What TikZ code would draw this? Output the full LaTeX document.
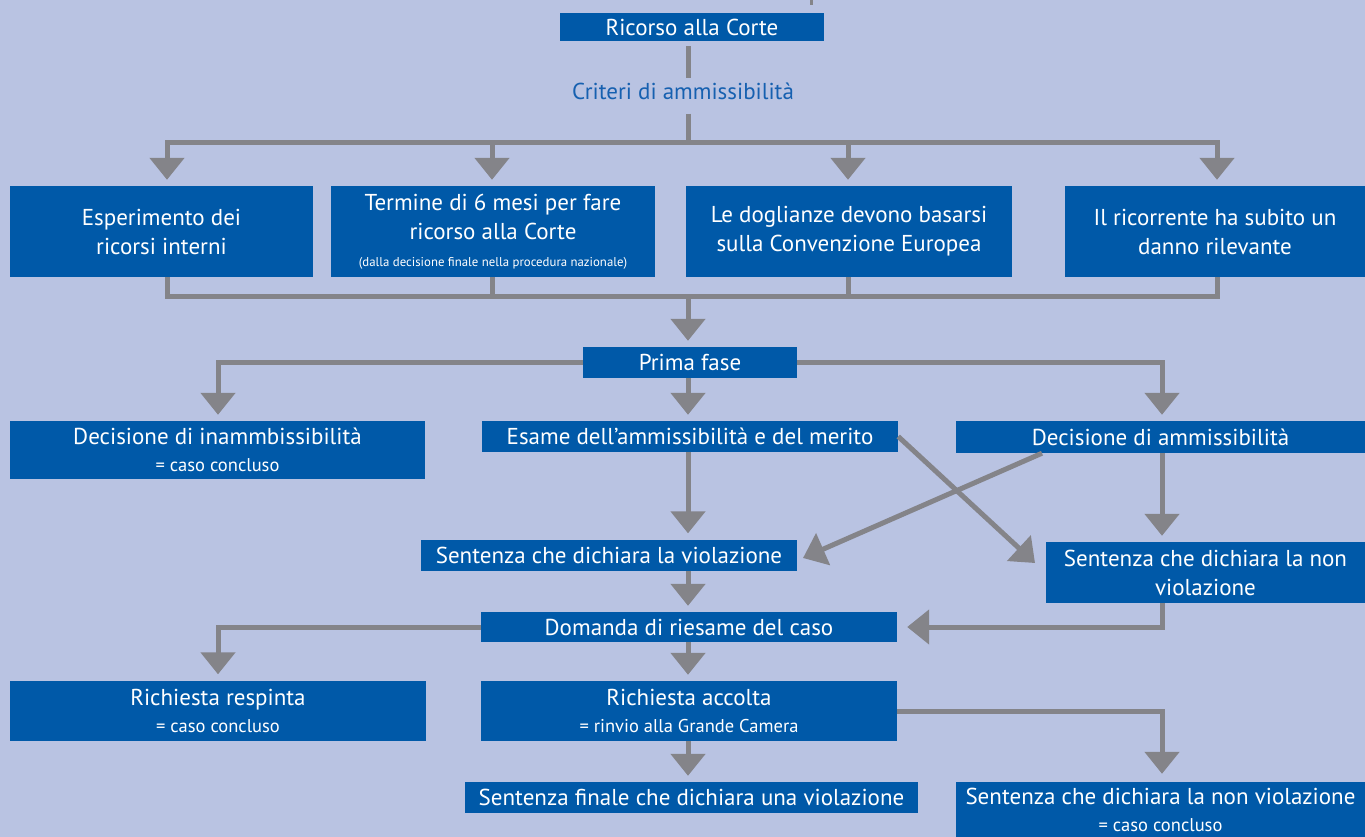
\documentclass[tikz,border=0pt]{standalone}
\usepackage{fontspec}
\setmainfont{PT Sans}
\usetikzlibrary{arrows.meta}
\definecolor{bgcol}{RGB}{185,195,226}
\definecolor{boxblue}{RGB}{0,89,168}
\definecolor{conngray}{RGB}{132,132,137}
\definecolor{titleblue}{RGB}{22,96,176}
\newcommand\mainsz{\fontsize{23}{29}\selectfont}
\newcommand\smallsz{\fontsize{18.5}{20}\selectfont}
\newcommand\tinysz{\fontsize{12.8}{14}\selectfont}
\begin{document}
\begin{tikzpicture}[x=1pt,y=-1pt,
  box/.style={fill=boxblue, text=white, inner sep=0pt, align=center, font=\mainsz},
  conn/.style={draw=conngray, line width=5pt},
  arr/.style={conn, -{Triangle[width=34pt,length=22pt]}, shorten >=6pt},
]
\fill[bgcol] (0,0) rectangle (1365,837);
\useasboundingbox (0,0) rectangle (1365,837);

% nodes
\node[box, minimum width=264pt, minimum height=28pt] (ricorso) at (692,27) {Ricorso alla Corte};
\node[text=titleblue, font=\mainsz, inner sep=0pt] (criteri) at (683,91) {Criteri di ammissibilità};
\node[box, minimum width=303pt, minimum height=91pt] (b1) at (161.5,231.5) {Esperimento dei\\ricorsi interni};
\node[box, minimum width=324pt, minimum height=91pt] (b2) at (493,231.5) {Termine di 6 mesi per fare\\ricorso alla Corte\\[-2pt]{\tinysz (dalla decisione finale nella procedura nazionale)}};
\node[box, minimum width=326pt, minimum height=91pt] (b3) at (849,231.5) {Le doglianze devono basarsi\\sulla Convenzione Europea};
\node[box, minimum width=300pt, minimum height=91pt] (b4) at (1215,231.5) {Il ricorrente ha subito un\\danno rilevante};
\node[box, minimum width=214pt, minimum height=31pt] (prima) at (690,362.5) {Prima fase};
\node[box, minimum width=415pt, minimum height=58pt] (inamm) at (217.5,450) {Decisione di inammbissibilità\\[-2pt]{\smallsz = caso concluso}};
\node[box, minimum width=416pt, minimum height=31pt] (esame) at (690,436.5) {Esame dell’ammissibilità e del merito};
\node[box, minimum width=409pt, minimum height=32pt] (amm) at (1160.5,437) {Decisione di ammissibilità};
\node[box, minimum width=376pt, minimum height=31pt] (viol) at (609,555) {Sentenza che dichiara la violazione};
\node[box, minimum width=319pt, minimum height=61pt] (nonviol) at (1205.5,572.5) {Sentenza che dichiara la non\\violazione};
\node[box, minimum width=416pt, minimum height=30pt] (domanda) at (689,627) {Domanda di riesame del caso};
\node[box, minimum width=416pt, minimum height=60pt] (respinta) at (218,710.5) {Richiesta respinta\\[-2pt]{\smallsz = caso concluso}};
\node[box, minimum width=416pt, minimum height=60pt] (accolta) at (689,711) {Richiesta accolta\\[-2pt]{\smallsz = rinvio alla Grande Camera}};
\node[box, minimum width=453pt, minimum height=31pt] (finale) at (691.5,797.5) {Sentenza finale che dichiara una violazione};
\node[box, minimum width=409pt, minimum height=55pt] (finnon) at (1160.5,809.5) {Sentenza che dichiara la non violazione\\[-2pt]{\smallsz = caso concluso}};

% coordinates
\coordinate (tk) at (688,0);
\coordinate (hub) at (688,143);
\coordinate (f1) at (167,143);
\coordinate (f2) at (492,143);
\coordinate (f3) at (848,143);
\coordinate (f4) at (1217,143);
\coordinate (g) at (688,296);
\coordinate (pl) at (218,363);
\coordinate (pr) at (1162,363);
\coordinate (a2) at (1042,0);
\coordinate (t1) at (1035,563);
\coordinate (t2) at (803,558);
\coordinate (s1) at (811,0);
\coordinate (s2) at (811,5);

% connectors
\draw[conn, line width=3pt] (s1) -- (s2);
\draw[conn, shorten <=5pt, shorten >=4pt] (ricorso.south -| tk) -- (criteri.north -| tk);
\draw[conn, shorten <=14pt] (criteri.south -| tk) -- (hub);
\draw[arr] (hub) -| (f1 |- b1.north);
\draw[arr] (hub) -| (f2 |- b2.north);
\draw[arr] (hub) -| (f3 |- b3.north);
\draw[arr] (hub) -| (f4 |- b4.north);
\draw[conn] (b1.south -| f1) |- (g);
\draw[conn] (b2.south -| f2) |- (g);
\draw[conn] (b3.south -| f3) |- (g);
\draw[conn] (b4.south -| f4) |- (g);
\draw[arr] (g) -- (prima.north -| tk);
\draw[arr] (prima.west) -| (inamm.north -| pl);
\draw[arr] (prima.east) -| (amm.north -| pr);
\draw[arr] (prima.south -| tk) -- (esame.north -| tk);
\draw[arr] (esame.south -| tk) -- (viol.north -| tk);
\draw[arr, shorten >=0pt] (esame.east) -- (t1);
\draw[arr, shorten >=0pt] (amm.south -| a2) -- (t2);
\draw[arr] (amm.south -| pr) -- (nonviol.north -| pr);
\draw[arr] (viol.south -| tk) -- (domanda.north -| tk);
\draw[arr, shorten >=10pt] (nonviol.south -| pr) |- (domanda.east);
\draw[arr] (domanda.west) -| (respinta.north -| pl);
\draw[arr] (domanda.south -| tk) -- (accolta.north -| tk);
\draw[arr, shorten >=8pt] (accolta.east) -| (finnon.north -| pr);
\draw[arr] (accolta.south -| tk) -- (finale.north -| tk);
\end{tikzpicture}
\end{document}
